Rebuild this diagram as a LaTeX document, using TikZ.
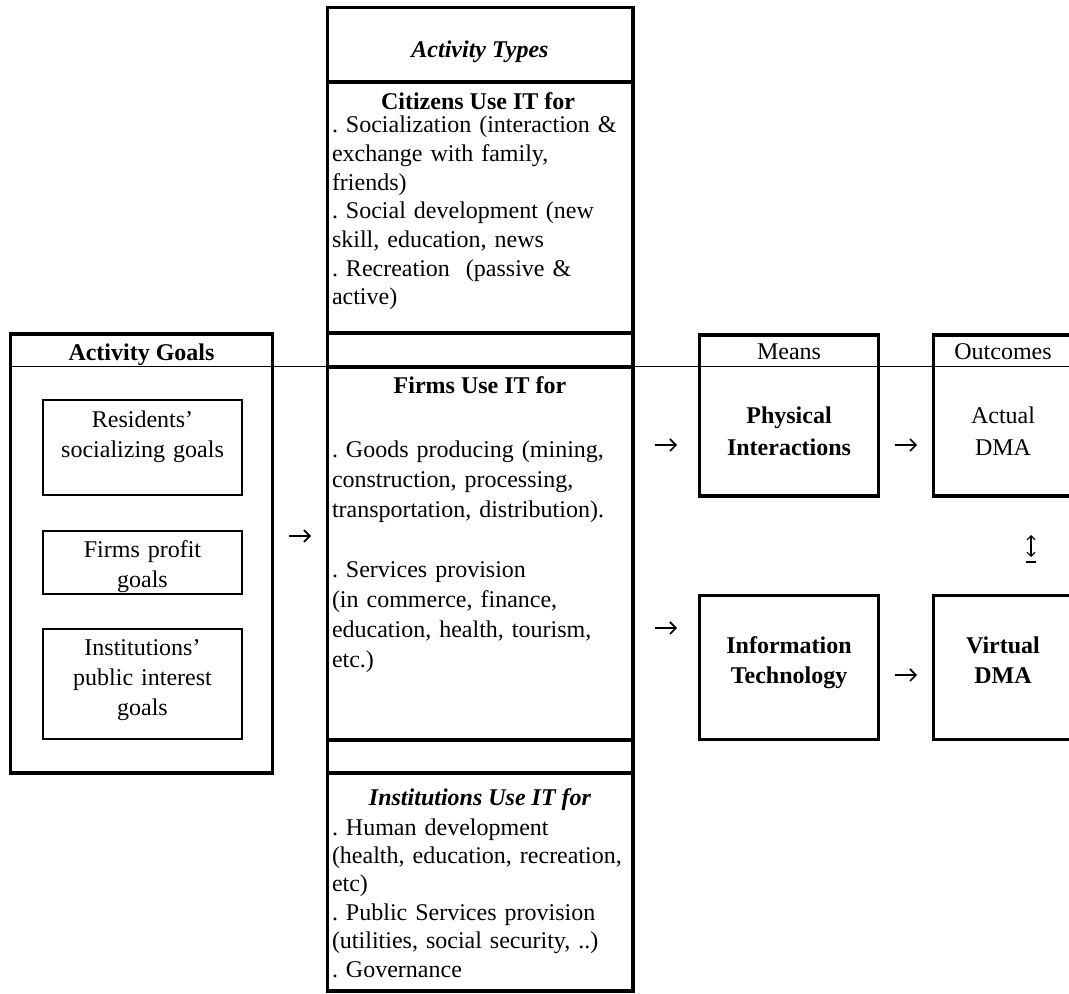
\documentclass[tikz,border=0pt]{standalone}
\usepackage{fontspec}
\setmainfont{Liberation Serif}
\usetikzlibrary{positioning,arrows.meta}
\frenchspacing

\begin{document}
\begin{tikzpicture}[x=0.5pt,y=-0.5pt,
  every node/.style={inner sep=0pt,outer sep=0pt},
  frame/.style={draw,line width=1.8pt,anchor=north west},
  thinframe/.style={draw,line width=0.75pt,anchor=north west},
  lbl/.style={font=\fontsize{12}{15}\selectfont,anchor=base},
  blk/.style={font=\fontsize{12}{15}\selectfont,text width=120pt,align=center,anchor=base},
  listtxt/.style={text width=160pt,align=left,anchor=base west},
  arrslot/.style={minimum width=11pt,minimum height=6pt},
  arr/.style={-{Straight Barb[length=3pt,width=6pt]},line width=0.8pt}]
\useasboundingbox (0,0) rectangle (1069,994);

% activity types column
\node[frame,minimum width=152.75pt,minimum height=37.25pt] (types) at (327.5,7.5) {};
\node[frame,minimum width=152.75pt,minimum height=125.5pt,below=0pt of types] (cit) {};
\node[frame,minimum width=152.75pt,minimum height=17pt,below=0pt of cit] (gapA) {};
\node[frame,minimum width=152.75pt,minimum height=186.5pt,below=0pt of gapA] (firms) {};
\node[frame,minimum width=152.75pt,minimum height=16.5pt,below=0pt of firms] (gapB) {};
\node[frame,minimum width=152.75pt,minimum height=109pt,below=0pt of gapB] (inst) {};

\node[lbl,font=\fontsize{12}{15}\selectfont\bfseries\itshape] (typesT) at (480,58) {Activity Types};
\node[lbl,font=\fontsize{12}{15}\selectfont\bfseries] (citH) at (478,110) {Citizens Use IT for};
\node[listtxt,font=\fontsize{12}{14.33}\selectfont] (citL) at (332,133) {. Socialization (interaction \&\\exchange with family,\\friends)\\. Social development (new\\skill, education, news\\. Recreation\ \ (passive \&\\active)};
\node[lbl,font=\fontsize{12}{15}\selectfont\bfseries] (firmsH) at (480,393) {Firms Use IT for};
\node[listtxt,font=\fontsize{12}{15}\selectfont] (firmsL) at (332,457) {. Goods producing (mining,\\construction, processing,\\transportation, distribution).\\[15pt]. Services provision\\(in commerce, finance,\\education, health, tourism,\\etc.)};
\node[lbl,font=\fontsize{12}{15}\selectfont\bfseries\itshape] (instH) at (480,805) {Institutions Use IT for};
\node[listtxt,font=\fontsize{12}{14.2}\selectfont] (instL) at (332,835) {. Human development\\(health, education, recreation,\\etc)\\. Public Services provision\\(utilities, social security, ..)\\. Governance};

% activity goals
\node[frame,minimum width=131pt,minimum height=219.5pt] (goals) at (10.5,334) {};
\node[lbl,font=\fontsize{12}{15}\selectfont\bfseries] (goalsT) at (141.5,360) {Activity Goals};
\node[thinframe,minimum width=99.5pt,minimum height=47.5pt] (resBox) at (43,400) {};
\node[blk] (resT) at (142.5,427) {Residents'\\socializing goals};
\node[thinframe,minimum width=99.5pt,minimum height=31.5pt] (profBox) at (43,531) {};
\node[blk] (profT) at (142.5,557) {Firms profit\\goals};
\node[thinframe,minimum width=99.5pt,minimum height=55pt] (pubBox) at (43,629) {};
\node[blk] (pubT) at (142.5,655) {Institutions'\\public interest\\goals};

% means and outcomes
\node[frame,minimum width=89.5pt,minimum height=80.5pt] (means) at (699.5,335) {};
\node[frame,minimum width=73.25pt,minimum height=80.5pt] (outc) at (933.5,335) {};
\node[frame,minimum width=89.5pt,minimum height=72pt] (itBox) at (699.5,595.5) {};
\node[frame,minimum width=73.25pt,minimum height=72pt] (virt) at (933.5,595.5) {};
\node[lbl] (meansT) at (789,359) {Means};
\node[lbl] (outcT) at (1003,359) {Outcomes};
\node[blk,font=\fontsize{12}{16}\selectfont\bfseries] (physT) at (789,423) {Physical\\Interactions};
\node[blk,font=\fontsize{12}{16}\selectfont] (actT) at (1003,423) {Actual\\DMA};
\node[blk,font=\fontsize{12}{15}\selectfont\bfseries] (itT) at (789,653) {Information\\Technology};
\node[blk,font=\fontsize{12}{15}\selectfont\bfseries] (virtT) at (1003,653) {Virtual\\DMA};

% small arrows
\node[arrslot] (arrGoals) at (300,536) {};
\node[arrslot] (arrPhys) at (666,445) {};
\node[arrslot] (arrAct) at (906,445) {};
\node[arrslot] (arrIT) at (666,628) {};
\node[arrslot] (arrVirt) at (906,675) {};
\node[minimum width=5pt,minimum height=11pt] (arrBoth) at (1031,546) {};
\foreach \a in {arrGoals,arrPhys,arrAct,arrIT,arrVirt}
  \draw[arr] (\a.west) -- (\a.east);
\draw[{Straight Barb[length=2pt,width=4pt]}-{Straight Barb[length=2pt,width=4pt]},line width=0.6pt] (arrBoth.north) -- (arrBoth.south);
\draw[line width=0.6pt] ([yshift=-2.5pt]arrBoth.south west) -- ([yshift=-2.5pt]arrBoth.south east);

% header rule
\coordinate (ruleL) at (10.5,366.5);
\coordinate (ruleR) at (1080,366.5);
\draw[line width=0.75pt] (ruleL) -- (ruleR);
\end{tikzpicture}
\end{document}
